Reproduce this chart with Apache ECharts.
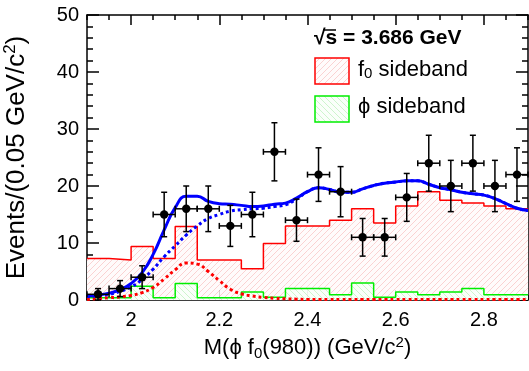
<!DOCTYPE html>
<html>
<head>
<meta charset="utf-8">
<script src="https://cdn.jsdelivr.net/npm/echarts@6/dist/echarts.min.js"></script>
<style>
  html, body { margin: 0; padding: 0; background: #fff; }
  #chart { width: 529px; height: 371px; }
</style>
</head>
<body>
<div id="chart"></div>
<script>
// data points (bin centres, 0.05 GeV bins)
var binCenters = [1.925, 1.975, 2.025, 2.075, 2.125, 2.175, 2.225, 2.275, 2.325, 2.375,
                  2.425, 2.475, 2.525, 2.575, 2.625, 2.675, 2.725, 2.775, 2.825, 2.875];
var counts = [1, 2, 4, 15, 16, 16, 13, 15, 26, 14, 22, 19, 11, 11, 18, 24, 20, 24, 20, 22];
var countErrs = [1.0, 1.4, 2.0, 3.9, 4.0, 4.0, 3.6, 3.9, 5.1, 3.7,
                 4.7, 4.4, 3.3, 3.3, 4.2, 4.9, 4.5, 4.9, 4.5, 4.7];

// sideband histograms (lower bin edges)
var binEdges = [1.90, 1.95, 2.00, 2.05, 2.10, 2.15, 2.20, 2.25, 2.30, 2.35,
                2.40, 2.45, 2.50, 2.55, 2.60, 2.65, 2.70, 2.75, 2.80, 2.85];
var f0Sideband = [7.3, 7.0, 9.4, 7.3, 12.9, 7.0, 7.0, 5.5, 9.9, 13.0,
                  13.0, 14.0, 16.0, 13.5, 16.5, 19.0, 17.5, 17.0, 16.5, 16.0];
var phiSideband = [0.4, 0.4, 2.4, 0.4, 2.9, 0.4, 0.4, 1.4, 0.5, 2.0,
                   2.0, 0.9, 3.0, 0.5, 1.4, 0.9, 1.4, 2.0, 0.9, 0.9];

// fit curves
var fitX = [1.900, 1.925, 1.950, 1.975, 2.000, 2.025, 2.050, 2.075, 2.100, 2.125,
            2.150, 2.175, 2.200, 2.225, 2.250, 2.275, 2.300, 2.325, 2.350, 2.375,
            2.400, 2.425, 2.450, 2.475, 2.500, 2.525, 2.550, 2.575, 2.600, 2.625,
            2.650, 2.675, 2.700, 2.725, 2.750, 2.775, 2.800, 2.825, 2.850, 2.875, 2.900];
var fitTotal = [0.7, 0.85, 1.2, 1.8, 2.9, 4.8, 8.0, 12.3, 16.2, 18.2,
                18.2, 17.3, 16.9, 16.8, 16.6, 16.4, 16.5, 16.8, 17.0, 17.9,
                19.0, 19.7, 19.4, 18.9, 18.9, 19.5, 20.1, 20.5, 20.7, 20.9,
                20.9, 20.3, 19.7, 19.35, 18.9, 18.65, 18.4, 17.8, 16.9, 16.1, 15.7];
var fitBackground = [0.6, 0.75, 1.0, 1.5, 2.3, 3.6, 5.4, 7.6, 9.5, 11.4,
                     13.0, 14.3, 15.0, 15.6, 15.85, 16.0, 16.1, 16.4, 16.7, 17.7,
                     19.0, 19.7, 19.4, 18.9, 18.9, 19.5, 20.1, 20.5, 20.7, 20.9,
                     20.9, 20.3, 19.7, 19.35, 18.9, 18.65, 18.4, 17.8, 16.9, 16.1, 15.7];
var fitSignal = [0.1, 0.25, 0.4, 0.55, 0.8, 1.3, 2.2, 3.7, 5.3, 6.5,
                 6.3, 5.0, 3.4, 1.9, 1.1, 0.7, 0.45, 0.3, 0.2, 0.15,
                 0.1, 0.1, 0.1, 0.1, 0.1, 0.1, 0.1, 0.1, 0.1, 0.1,
                 0.1, 0.1, 0.1, 0.1, 0.1, 0.1, 0.1, 0.1, 0.1, 0.1, 0.1];

var xMajorTicks = [2.0, 2.2, 2.4, 2.6, 2.8];
var binWidth = 0.05;

var FONT = 'Liberation Sans, Arial, sans-serif';

// diagonal hatch pattern for the histogram fills
function hatch(bg, color, forward) {
  var c = document.createElement('canvas');
  c.width = 6; c.height = 6;
  var ctx = c.getContext('2d');
  ctx.fillStyle = bg;
  ctx.fillRect(0, 0, 6, 6);
  ctx.strokeStyle = color;
  ctx.lineWidth = 1;
  ctx.beginPath();
  if (forward) {
    ctx.moveTo(-1, 7); ctx.lineTo(7, -1);
  } else {
    ctx.moveTo(-1, -1); ctx.lineTo(7, 7);
  }
  ctx.stroke();
  return c;
}
var redHatch = hatch('#fffbfb', '#fad2d2', true);
var greenHatch = hatch('#fafffa', '#cdf5cd', false);

function stepData(vals) {
  var pts = binEdges.map(function (e, i) { return [e, vals[i]]; });
  pts.push([binEdges[binEdges.length - 1] + binWidth, vals[vals.length - 1]]);
  return pts;
}
function pairs(xs, ys) {
  return xs.map(function (x, i) { return [x, ys[i]]; });
}
// hatched bin fills, drawn as a custom series
function fillSeries(vals, pattern, z) {
  return {
    type: 'custom', z: z, silent: true,
    data: binEdges.map(function (e, i) { return [e, vals[i]]; }),
    encode: { x: 0, y: 1 },
    renderItem: function (params, api) {
      var p0 = api.coord([api.value(0), 0]);
      var p1 = api.coord([api.value(0) + binWidth, api.value(1)]);
      return {
        type: 'rect',
        shape: { x: p0[0], y: p1[1], width: p1[0] - p0[0], height: p0[1] - p1[1] },
        style: { fill: { image: pattern, repeat: 'repeat' } }
      };
    }
  };
}

var axisLine = { show: true, lineStyle: { color: '#000', width: 1.5 } };
function xAxisMajor(pos, withLabels) {
  var a = {
    type: 'value', min: 1.9, max: 2.9, position: pos,
    axisLine: axisLine,
    axisTick: { inside: true, length: 10, customValues: xMajorTicks, lineStyle: { color: '#000', width: 1.5 } },
    axisLabel: { show: withLabels, customValues: xMajorTicks, color: '#000', fontSize: 20, fontFamily: FONT, margin: 10 },
    splitLine: { show: false }
  };
  if (withLabels) {
    a.name = 'M(ϕ f{sub|0}(980)) (GeV/c{sup|2})';
    a.nameLocation = 'middle';
    a.nameGap = 35;
    a.nameTextStyle = {
      color: '#000', fontSize: 22, fontFamily: FONT, lineHeight: 26,
      rich: {
        sub: { fontSize: 15, fontFamily: FONT, color: '#000', lineHeight: 15, verticalAlign: 'bottom' },
        sup: { fontSize: 15, fontFamily: FONT, color: '#000', lineHeight: 15, verticalAlign: 'top' }
      }
    };
  }
  return a;
}
function xAxisMinor(pos) {
  return {
    type: 'value', min: 1.9, max: 2.9, interval: 0.05, position: pos,
    axisLine: { show: false },
    axisTick: { inside: true, length: 5, lineStyle: { color: '#000', width: 1.5 } },
    axisLabel: { show: false },
    splitLine: { show: false }
  };
}
function yAxis(pos, withLabels) {
  var a = {
    type: 'value', min: 0, max: 50, interval: 10, position: pos,
    axisLine: axisLine,
    axisTick: { inside: true, length: 12, lineStyle: { color: '#000', width: 1.5 } },
    minorTick: { show: true, splitNumber: 5, length: 6, lineStyle: { color: '#000', width: 1.5 } },
    axisLabel: { show: withLabels, color: '#000', fontSize: 20, fontFamily: FONT, margin: 8 },
    splitLine: { show: false }
  };
  if (withLabels) {
    a.name = 'Events/(0.05 GeV/c{sup|2})';
    a.nameLocation = 'middle';
    a.nameRotate = 90;
    a.nameGap = 55;
    a.nameTextStyle = {
      color: '#000', fontSize: 26, fontFamily: FONT, lineHeight: 30,
      rich: {
        sup: { fontSize: 17, fontFamily: FONT, color: '#000', lineHeight: 17, verticalAlign: 'top' }
      }
    };
  }
  return a;
}

var chart = echarts.init(document.getElementById('chart'), null, { renderer: 'canvas' });
chart.setOption({
  backgroundColor: '#fff',
  animation: false,
  grid: { left: 87, right: 1, top: 15, bottom: 71, containLabel: false, outerBoundsMode: 'none' },
  xAxis: [xAxisMajor('bottom', true), xAxisMinor('bottom'), xAxisMajor('top', false), xAxisMinor('top')],
  yAxis: [yAxis('left', true), yAxis('right', false)],
  series: [
    fillSeries(f0Sideband, redHatch, 1),
    fillSeries(phiSideband, greenHatch, 1.5),
    {
      name: 'f0 sideband', type: 'line', step: 'end', data: stepData(f0Sideband),
      showSymbol: false, lineStyle: { color: '#ff0000', width: 1.5 }, z: 2
    },
    {
      name: 'phi sideband', type: 'line', step: 'end', data: stepData(phiSideband),
      showSymbol: false, lineStyle: { color: '#00ee00', width: 1.5 }, z: 3
    },
    {
      name: 'signal', type: 'line', smooth: true, data: pairs(fitX, fitSignal),
      showSymbol: false, lineStyle: { color: '#ff0000', width: 3, type: [3, 3] }, z: 4
    },
    {
      name: 'background', type: 'line', smooth: true, data: pairs(fitX, fitBackground),
      showSymbol: false, lineStyle: { color: '#0000ff', width: 3, type: [3, 3] }, z: 5
    },
    {
      name: 'total', type: 'line', smooth: true, data: pairs(fitX, fitTotal),
      showSymbol: false, lineStyle: { color: '#0000ff', width: 3 }, z: 6
    },
    {
      name: 'data', type: 'custom', z: 7,
      data: binCenters.map(function (x, i) { return [x, counts[i], countErrs[i]]; }),
      encode: { x: 0, y: 1 },
      renderItem: function (params, api) {
        var x = api.value(0), y = api.value(1), e = api.value(2);
        var c = api.coord([x, y]);
        var l = api.coord([x - binWidth / 2, y]);
        var r = api.coord([x + binWidth / 2, y]);
        var t = api.coord([x, y + e]);
        var b = api.coord([x, Math.max(0, y - e)]);
        var st = { stroke: '#000', lineWidth: 1.5 };
        var cap = 3;
        return {
          type: 'group',
          children: [
            { type: 'line', shape: { x1: l[0], y1: l[1], x2: r[0], y2: r[1] }, style: st },
            { type: 'line', shape: { x1: t[0], y1: t[1], x2: b[0], y2: b[1] }, style: st },
            { type: 'line', shape: { x1: l[0], y1: l[1] - cap, x2: l[0], y2: l[1] + cap }, style: st },
            { type: 'line', shape: { x1: r[0], y1: r[1] - cap, x2: r[0], y2: r[1] + cap }, style: st },
            { type: 'line', shape: { x1: t[0] - cap, y1: t[1], x2: t[0] + cap, y2: t[1] }, style: st },
            { type: 'line', shape: { x1: b[0] - cap, y1: b[1], x2: b[0] + cap, y2: b[1] }, style: st },
            { type: 'circle', shape: { cx: c[0], cy: c[1], r: 4.2 }, style: { fill: '#000' } }
          ]
        };
      }
    }
  ],
  graphic: [
    { type: 'text', left: 314, top: 28, style: { text: '√s = 3.686 GeV', font: 'bold 21px ' + FONT, fill: '#000' } },
    { type: 'line', shape: { x1: 323, y1: 30, x2: 336, y2: 30 }, style: { stroke: '#000', lineWidth: 1.5 } },
    { type: 'rect', shape: { x: 315, y: 58, width: 34, height: 26 },
      style: { fill: { image: redHatch, repeat: 'repeat' }, stroke: '#ff0000', lineWidth: 1.5 } },
    { type: 'text', left: 358, top: 59, style: {
        text: 'f{sub|0} sideband', font: '22px ' + FONT, fill: '#000',
        rich: { sub: { fontSize: 15, fontFamily: FONT, fill: '#000', verticalAlign: 'bottom', lineHeight: 15 } } } },
    { type: 'rect', shape: { x: 315, y: 96, width: 34, height: 26 },
      style: { fill: { image: greenHatch, repeat: 'repeat' }, stroke: '#00ee00', lineWidth: 1.5 } },
    { type: 'text', left: 358, top: 96, style: { text: 'ϕ sideband', font: '22px ' + FONT, fill: '#000' } }
  ]
});
</script>
</body>
</html>
